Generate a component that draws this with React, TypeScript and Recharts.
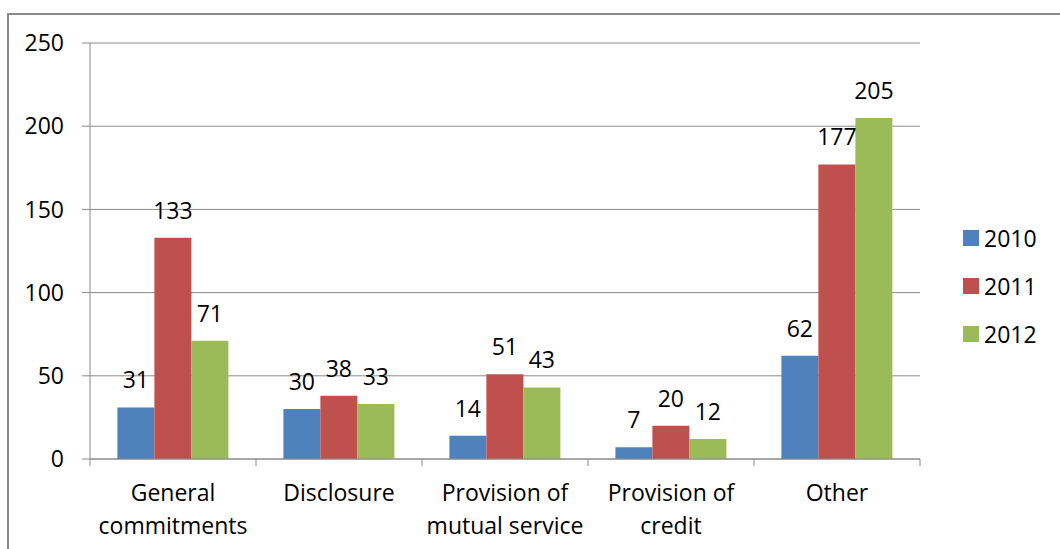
import React from "react";
import {
  BarChart,
  Bar,
  XAxis,
  YAxis,
  CartesianGrid,
  Legend,
  LabelList,
} from "recharts";

// Complaint categories along the x axis ("\n" marks where the label wraps)
const categories = [
  "General\ncommitments",
  "Disclosure",
  "Provision of\nmutual service",
  "Provision of\ncredit",
  "Other",
];

// Counts per year
const values2010 = [31, 30, 14, 7, 62];
const values2011 = [133, 38, 51, 20, 177];
const values2012 = [71, 33, 43, 12, 205];

const years = ["2010", "2011", "2012"];
const yTicks = [0, 50, 100, 150, 200, 250];

const seriesColors = ["#4F81BD", "#C0504D", "#9BBB59"];

const CHART_W = 1060;
const CHART_H = 549;
const MARGIN = { top: 43, right: 0, bottom: 10, left: 0 };
const Y_AXIS_W = 90;
const LEGEND_W = 140;
const FONT = '"Open Sans", sans-serif';
const FONT_SIZE = 23;
const GRID = "#8a8a8a";

const chartData = categories.map((name, i) => ({
  name,
  "2010": values2010[i],
  "2011": values2011[i],
  "2012": values2012[i],
}));

// x ticks: labels centred in each band, tick marks on the band edges
function CategoryTick(props: any) {
  const { x, y, payload, index, visibleTicksCount } = props;
  const plotW = CHART_W - MARGIN.left - MARGIN.right - Y_AXIS_W - LEGEND_W;
  const count = visibleTicksCount || categories.length;
  const band = props.width ? props.width / count : plotW / count;
  const left = x - band / 2;
  const right = x + band / 2;
  const lines = String(payload.value).split("\n");
  return (
    <g>
      <line x1={left} x2={left} y1={y} y2={y + 7} stroke={GRID} strokeWidth={1} />
      {index === count - 1 && (
        <line x1={right} x2={right} y1={y} y2={y + 7} stroke={GRID} strokeWidth={1} />
      )}
      <text
        x={x}
        y={y + 42}
        textAnchor="middle"
        fontSize={FONT_SIZE}
        fontFamily={FONT}
        fill="#000"
      >
        {lines.map((line, i) => (
          <tspan key={i} x={x} dy={i === 0 ? 0 : 33}>
            {line}
          </tspan>
        ))}
      </text>
    </g>
  );
}

function YearLegend() {
  return (
    <div style={{ paddingLeft: 43, fontFamily: FONT, fontSize: FONT_SIZE }}>
      {years.map((year, i) => (
        <div
          key={year}
          style={{ display: "flex", alignItems: "center", height: 48 }}
        >
          <span
            style={{
              display: "inline-block",
              flexShrink: 0,
              width: 16,
              height: 16,
              background: seriesColors[i],
              marginRight: 5,
            }}
          />
          <span style={{ color: "#000", whiteSpace: "nowrap" }}>{year}</span>
        </div>
      ))}
    </div>
  );
}

export default function App() {
  return (
    <div
      style={{
        position: "absolute",
        left: 0,
        top: 0,
        width: CHART_W,
        height: CHART_H,
        overflow: "hidden",
        background: "#fff",
        fontFamily: FONT,
      }}
    >
      <div
        style={{
          position: "absolute",
          left: 7,
          top: 13,
          width: CHART_W,
          height: CHART_H,
          border: `2px solid ${GRID}`,
        }}
      />
      <BarChart
        width={CHART_W}
        height={CHART_H}
        data={chartData}
        margin={MARGIN}
        barCategoryGap="16.5%"
        barGap={0}
      >
        <CartesianGrid vertical={false} stroke={GRID} strokeWidth={1} />
        <XAxis
          dataKey="name"
          height={80}
          interval={0}
          tickSize={0}
          tickMargin={0}
          tickLine={false}
          axisLine={{ stroke: GRID }}
          tick={<CategoryTick />}
        />
        <YAxis
          width={Y_AXIS_W}
          type="number"
          domain={[0, 250]}
          ticks={yTicks}
          interval={0}
          tickSize={8}
          tickMargin={18}
          axisLine={{ stroke: GRID }}
          tickLine={{ stroke: GRID }}
          tick={{ fontSize: FONT_SIZE, fill: "#000", fontFamily: FONT }}
        />
        <Legend
          layout="vertical"
          align="right"
          verticalAlign="top"
          width={LEGEND_W}
          wrapperStyle={{ top: 214, right: 0 }}
          content={() => <YearLegend />}
        />
        {years.map((year, i) => (
          <Bar
            key={year}
            dataKey={year}
            fill={seriesColors[i]}
            isAnimationActive={false}
          >
            <LabelList
              dataKey={year}
              position="top"
              offset={19}
              fill="#000"
              fontSize={FONT_SIZE}
              fontFamily={FONT}
            />
          </Bar>
        ))}
      </BarChart>
    </div>
  );
}
